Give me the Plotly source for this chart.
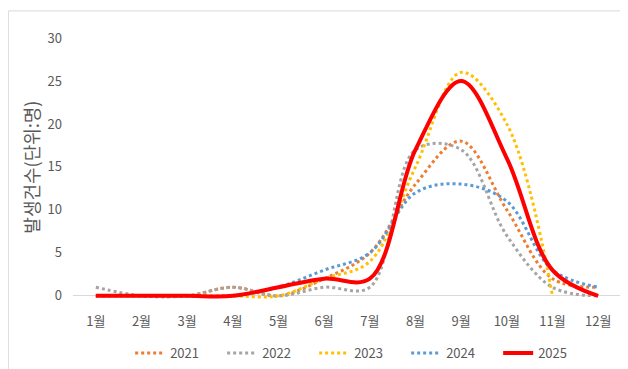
import plotly.graph_objects as go

months = ["1월", "2월", "3월", "4월", "5월", "6월", "7월", "8월", "9월", "10월", "11월", "12월"]
y2021 = [0, 0, 0, 1, 0, 2, 5, 13, 18, 10, 2, 1]
y2022 = [1, 0, 0, 1, 0, 1, 1, 17, 17, 7, 1, 0]
y2023 = [0, 0, 0, 0, 0, 2, 4, 15, 26, 20, 0, None]
y2024 = [0, 0, 0, 0, 1, 3, 5, 12, 13, 11, 3, 1]
y2025 = [0, 0, 0, 0, 1, 2, 2, 17, 25, 16, 3, 0]

series = [
    ("2021", y2021, "#ED7D31", "dot", 3),
    ("2022", y2022, "#A5A5A5", "dot", 3),
    ("2023", y2023, "#FFC000", "dot", 3),
    ("2024", y2024, "#5B9BD5", "dot", 3),
    ("2025", y2025, "#FF0000", "solid", 4),
]

FONT = "Noto Sans CJK KR"
GRAY = "#595959"

fig = go.Figure()
for name, vals, color, dash, w in series:
    fig.add_trace(go.Scatter(
        x=months, y=vals, name=name, mode="lines",
        line=dict(color=color, dash=dash, width=w, shape="spline", smoothing=1),
        connectgaps=False,
    ))

# page body has an 8px margin, so the figure is sized/offset to compensate
fig.update_layout(
    width=620, height=361,
    margin=dict(l=65, r=7, t=30, b=68, autoexpand=False),
    paper_bgcolor="white", plot_bgcolor="white",
    font=dict(family=FONT, color=GRAY, size=13),
    showlegend=True,
    legend=dict(orientation="h", x=0.524, xanchor="center", y=-0.141, yanchor="top",
                font=dict(size=13, color=GRAY), entrywidth=47, entrywidthmode="pixels"),
    xaxis=dict(type="category", showgrid=False, showline=False, zeroline=False,
               ticks="", tickfont=dict(size=13, color=GRAY), range=[-0.5, 11.5],
               ticklabelstandoff=11, automargin=False),
    yaxis=dict(range=[-0.6, 30], tickvals=[0, 5, 10, 15, 20, 25, 30], showgrid=False,
               showline=False, zeroline=True, zerolinecolor="#D9D9D9", zerolinewidth=1,
               ticks="", tickfont=dict(size=13, color=GRAY), ticklabelstandoff=10,
               automargin=False),
    annotations=[dict(text="발생건수(단위:명)", textangle=-90, xref="paper", yref="paper",
                      x=-0.077, y=0.51, xanchor="center", yanchor="middle", showarrow=False,
                      font=dict(size=18, color=GRAY, family=FONT))],
    shapes=[
        dict(type="line", xref="paper", yref="paper", x0=-0.118, x1=1.02, y0=1.103, y1=1.103,
             line=dict(color="#D9D9D9", width=1)),
        dict(type="line", xref="paper", yref="paper", x0=-0.118, x1=-0.118, y0=1.103, y1=-0.3,
             line=dict(color="#D9D9D9", width=1)),
    ],
)

fig.write_html("out.html")
